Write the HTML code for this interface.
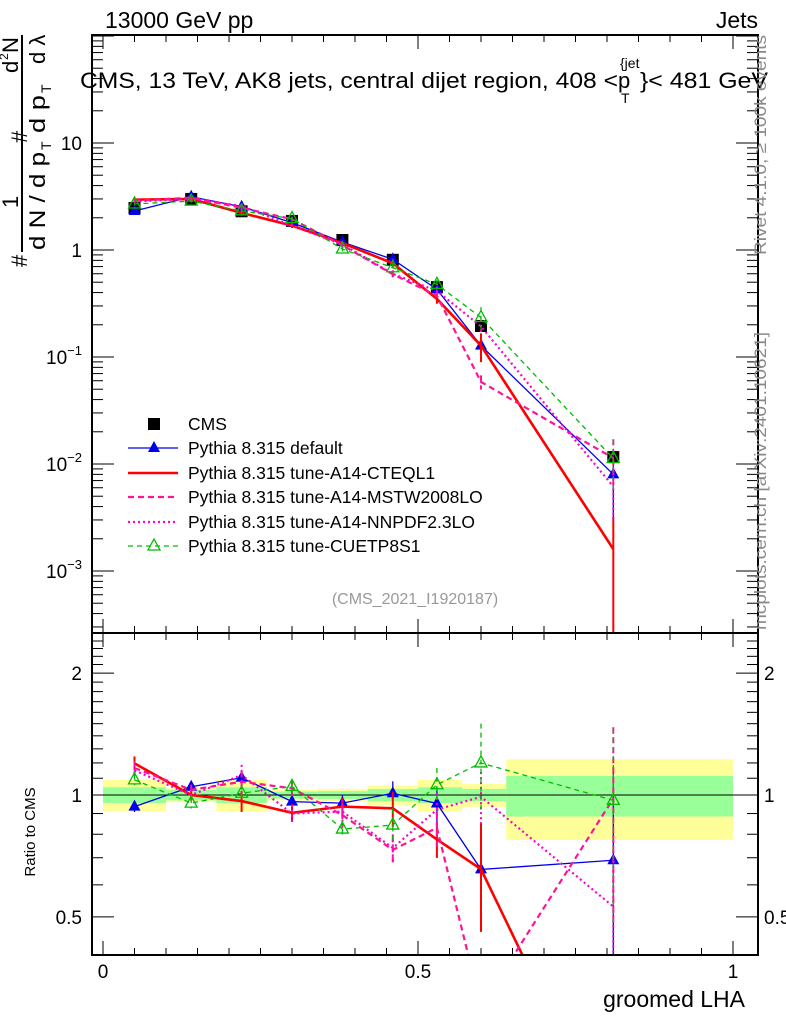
<!DOCTYPE html>
<html><head><meta charset="utf-8">
<style>
html,body{margin:0;padding:0;background:#fff;overflow:hidden;width:786px;height:1024px;}
svg{display:block;font-family:"Liberation Sans",sans-serif;}
</style></head>
<body>
<svg id="chart" width="786" height="1024" viewBox="0 0 786 1024" xmlns="http://www.w3.org/2000/svg">
<defs>
<clipPath id="ctop"><rect x="92" y="35" width="666" height="598"/></clipPath>
<clipPath id="crat"><rect x="92" y="633" width="666" height="322"/></clipPath>
</defs>
<g id="bands" clip-path="url(#crat)"></g>
<g id="series-top" clip-path="url(#ctop)"></g>
<g id="series-rat" clip-path="url(#crat)"></g>
<g id="axes"></g>
<text x="105" y="28" font-size="23">13000 GeV pp</text>
<text x="758" y="28" font-size="23" text-anchor="end">Jets</text>
<g font-size="22">
<text x="80" y="88" textLength="538" lengthAdjust="spacingAndGlyphs">CMS, 13 TeV, AK8 jets, central dijet region, 408 &lt;</text>
<text x="618" y="88">p</text>
<text x="620" y="68" font-size="14">{jet</text>
<text x="621" y="103" font-size="14">T</text>
<text x="640" y="88" textLength="128" lengthAdjust="spacingAndGlyphs">}&lt; 481 GeV</text>
</g>
<text x="415" y="604" font-size="16" fill="#999" text-anchor="middle">(CMS_2021_I1920187)</text>
<text transform="translate(766,255) rotate(-90)" font-size="17" fill="#888" textLength="220" lengthAdjust="spacingAndGlyphs">Rivet 4.1.0, ≥ 100k events</text>
<text transform="translate(766,630) rotate(-90)" font-size="17" fill="#888" textLength="298" lengthAdjust="spacingAndGlyphs">mcplots.cern.ch [arXiv:2401.10621]</text>
<g transform="rotate(-90)" font-size="22">
<text x="-267" y="27">#</text>
<text x="-208" y="18">1</text>
<text x="-73" y="18">d</text><text x="-60" y="8" font-size="12">2</text><text x="-53" y="18">N</text>
<text x="-143" y="27">#</text>
<text x="-250" y="45" textLength="98" lengthAdjust="spacingAndGlyphs">d N / d p</text><text x="-150" y="51" font-size="14">T</text>
<text x="-133" y="45" textLength="38" lengthAdjust="spacingAndGlyphs">d p</text><text x="-93" y="51" font-size="14">T</text>
<text x="-64" y="45">d λ</text>
<line x1="-252" y1="22" x2="-35" y2="22" stroke="#000" stroke-width="2"/>
</g>
<text x="35" y="832" font-size="15" transform="rotate(-90 35 832)" text-anchor="middle">Ratio to CMS</text>
<text x="745" y="1007" font-size="23" text-anchor="end">groomed LHA</text>
<g id="legend"></g>
</svg>
<script>
const binEdges=[0,0.1,0.18,0.26,0.34,0.42,0.5,0.57,0.64,1.0];
const xCenters=[0.05,0.14,0.22,0.30,0.38,0.46,0.53,0.60,0.81];
const cmsValues=[2.47,3.0,2.3,1.87,1.24,0.81,0.45,0.195,0.0116];
const cmsErrFrac=[0.04,0.03,0.04,0.02,0.03,0.04,0.04,0.05,0.11];
const bandInner=[0.045,0.03,0.045,0.02,0.022,0.035,0.045,0.035,0.115];
const bandOuter=[0.09,0.04,0.09,0.03,0.035,0.055,0.09,0.065,0.225];
const ratioDefault=[0.936,1.048,1.103,0.963,0.955,1.01,0.953,0.655,0.69];
const ratioCTEQ=[1.197,1.0,0.966,0.904,0.936,0.927,0.777,0.656,0.138];
const ratioMSTW=[1.166,1.03,1.078,1.039,0.892,0.732,0.83,0.30,0.98];
const ratioNNPDF=[1.15,1.0,1.12,0.9,0.91,0.74,0.92,0.99,0.53];
const ratioCUETP=[1.09,0.955,1.01,1.05,0.824,0.843,1.06,1.2,0.97];
const errDefault=[0.03,0.03,0.03,0.02,0.05,0.07,0.1,0.2,0.7];
const errCTEQ=[0.04,0.03,0.06,0.05,0.05,0.1,0.1,0.3,1.0];
const errMSTW=[0.04,0.03,0.06,0.05,0.07,0.08,0.1,0.15,0.5];
const errNNPDF=[0.04,0.03,0.06,0.05,0.07,0.08,0.1,0.15,0.5];
const errCUETP=[0.03,0.03,0.05,0.04,0.05,0.1,0.1,0.25,0.5];
const seriesNames=["Pythia 8.315 default","Pythia 8.315 tune-A14-CTEQL1","Pythia 8.315 tune-A14-MSTW2008LO","Pythia 8.315 tune-A14-NNPDF2.3LO","Pythia 8.315 tune-CUETP8S1"];
const yTopTicks=[10,1,0.1,0.01,0.001];
const yTopLabels=["10","1","10^-1","10^-2","10^-3"];
const yRatTicks=[2,1,0.5];
const xTicks=[0,0.5,1];

const NS="http://www.w3.org/2000/svg";
const X=v=>103+630*v;
const YT=v=>250-107*Math.log10(v);
const YR=r=>795-405*Math.log10(r);
function mk(tag,attrs,parent){const e=document.createElementNS(NS,tag);for(const k in attrs)e.setAttribute(k,attrs[k]);parent.appendChild(e);return e;}
const axes=document.getElementById('axes'),bands=document.getElementById('bands');
const gt=document.getElementById('series-top'),gr=document.getElementById('series-rat'),leg=document.getElementById('legend');

for(let i=0;i<xCenters.length;i++){
  const x0=X(binEdges[i]),x1=X(binEdges[i+1]);
  let r=mk('rect',{x:x0,y:YR(1+bandOuter[i]),width:x1-x0,height:YR(1-bandOuter[i])-YR(1+bandOuter[i]),fill:'#ffff99'},bands);
  
  
  r=mk('rect',{x:x0,y:YR(1+bandInner[i]),width:x1-x0,height:YR(1-bandInner[i])-YR(1+bandInner[i]),fill:'#99ff99'},bands);
  
  
}
mk('line',{x1:92,y1:YR(1),x2:758,y2:YR(1),stroke:'#000','stroke-width':1},bands);

const styles=[
 {c:'#0000ee',w:1.3,d:'',m:'tri'},
 {c:'#ff0000',w:2.6,d:'',m:'none'},
 {c:'#ff1493',w:2.2,d:'6,4',m:'none'},
 {c:'#ff00cc',w:2.2,d:'2,3',m:'none'},
 {c:'#00bb00',w:1.3,d:'5,4',m:'otri'}];
const ratios=[ratioDefault,ratioCTEQ,ratioMSTW,ratioNNPDF,ratioCUETP];
const errs=[errDefault,errCTEQ,errMSTW,errNNPDF,errCUETP];
function marker(g,type,x,y,c){
  if(type==='tri'){const p=mk('polygon',{points:`${x},${y-7} ${x-6},${y+4} ${x+6},${y+4}`,fill:c},g);}
  if(type==='otri'){const p=mk('polygon',{points:`${x},${y-7} ${x-6},${y+4} ${x+6},${y+4}`,fill:'none',stroke:c,'stroke-width':1.3},g);}
}
for(let i=0;i<xCenters.length;i++){
  const x=X(xCenters[i]),y=YT(cmsValues[i]);
  mk('line',{x1:x,y1:YT(cmsValues[i]*(1+cmsErrFrac[i])),x2:x,y2:YT(cmsValues[i]*(1-cmsErrFrac[i])),stroke:'#000','stroke-width':1.5},gt);
  const r=mk('rect',{x:x-6,y:y-6,width:12,height:12,fill:'#000'},gt);
  
  
}
ratios.forEach((rat,s)=>{
  const st=styles[s];
  const vals=rat.map((r,i)=>r*cmsValues[i]);
  const pt=vals.map((v,i)=>X(xCenters[i])+','+YT(v)).join(' ');
  const pr=rat.map((r,i)=>X(xCenters[i])+','+YR(r)).join(' ');
  let l=mk('polyline',{points:pt,fill:'none',stroke:st.c,'stroke-width':st.w,'stroke-dasharray':st.d},gt);
  
  
  l=mk('polyline',{points:pr,fill:'none',stroke:st.c,'stroke-width':st.w,'stroke-dasharray':st.d},gr);
  
  
  for(let i=0;i<rat.length;i++){
    const x=X(xCenters[i]),e=errs[s][i];
    const lo=Math.max(rat[i]*(1-e),0.01),hi=rat[i]*(1+e);
    mk('line',{x1:x,y1:YT(hi*cmsValues[i]),x2:x,y2:YT(lo*cmsValues[i]),stroke:st.c,'stroke-width':Math.min(st.w,2),'stroke-dasharray':st.d},gt);
    mk('line',{x1:x,y1:YR(hi),x2:x,y2:YR(lo),stroke:st.c,'stroke-width':Math.min(st.w,2),'stroke-dasharray':st.d},gr);
    marker(gt,st.m,x,YT(vals[i]),st.c);
    marker(gr,st.m,x,YR(rat[i]),st.c);
  }
});

function frame(y0,y1){mk('rect',{x:92,y:y0,width:666,height:y1-y0,fill:'none',stroke:'#000','stroke-width':2},axes);}
frame(35,633);frame(633,955);
[35,633,955].forEach((yb,k)=>{
  for(let v=0;v<=1.0001;v+=0.05){
    const major=Math.abs(v*10-Math.round(v*10))<1e-6&&Math.round(v*10)%5===0;
    const len=major?14:7;const x=X(v);
    if(k===0||k===1){mk('line',{x1:x,y1:(k===0?35:633),x2:x,y2:(k===0?35:633)+len,stroke:'#000'},axes);}
    if(k===1||k===2){mk('line',{x1:x,y1:(k===1?633:955),x2:x,y2:(k===1?633:955)-len,stroke:'#000'},axes);}
  }
});
xTicks.forEach(v=>{const t=mk('text',{x:X(v),y:978,'font-size':19,'text-anchor':'middle'},axes);t.textContent=String(v);
});
for(let d=-4;d<=2;d++){for(let m=1;m<10;m++){const v=m*Math.pow(10,d);const y=YT(v);if(y<35||y>633)continue;
 const len=m===1?22:11;mk('line',{x1:92,y1:y,x2:92+len,y2:y,stroke:'#000'},axes);mk('line',{x1:758,y1:y,x2:758-len,y2:y,stroke:'#000'},axes);}}
yTopTicks.forEach((v,i)=>{const lab=yTopLabels[i];const t=mk('text',{x:82,y:YT(v)+7,'font-size':19,'text-anchor':'end'},axes);
 if(lab.includes('^')){const [b,e]=lab.split('^');t.textContent=b;const ts=mk('tspan',{dy:-9,'font-size':13},t);ts.textContent=e.replace('-','−');}else t.textContent=lab;
 });
for(let r=0.4;r<=2.5;r+=0.1){const y=YR(r);if(y<633||y>955)continue;const maj=[0.5,1,2].some(q=>Math.abs(q-r)<1e-6);const len=maj?22:11;
 mk('line',{x1:92,y1:y,x2:92+len,y2:y,stroke:'#000'},axes);mk('line',{x1:758,y1:y,x2:758-len,y2:y,stroke:'#000'},axes);}
yRatTicks.forEach(v=>{let t=mk('text',{x:82,y:YR(v)+7,'font-size':19,'text-anchor':'end'},axes);t.textContent=String(v);
 
 t=mk('text',{x:764,y:YR(v)+7,'font-size':19},axes);t.textContent=String(v);
 });

const ly=[424,448,473,497,522,546];
let g=mk('g',{},leg);
mk('rect',{x:148,y:ly[0]-6,width:12,height:12,fill:'#000'},g);
let t=mk('text',{x:188,y:ly[0]+6,'font-size':17.5},g);t.textContent='CMS';
seriesNames.forEach((n,s)=>{const st=styles[s];const y=ly[s+1];
 const g=mk('g',{},leg);
 mk('line',{x1:128,y1:y,x2:178,y2:y,stroke:st.c,'stroke-width':st.w,'stroke-dasharray':st.d},g);
 marker(g,st.m,154,y,st.c);
 const t=mk('text',{x:188,y:y+6,'font-size':17.5},g);t.textContent=n;});
</script>
</body></html>
